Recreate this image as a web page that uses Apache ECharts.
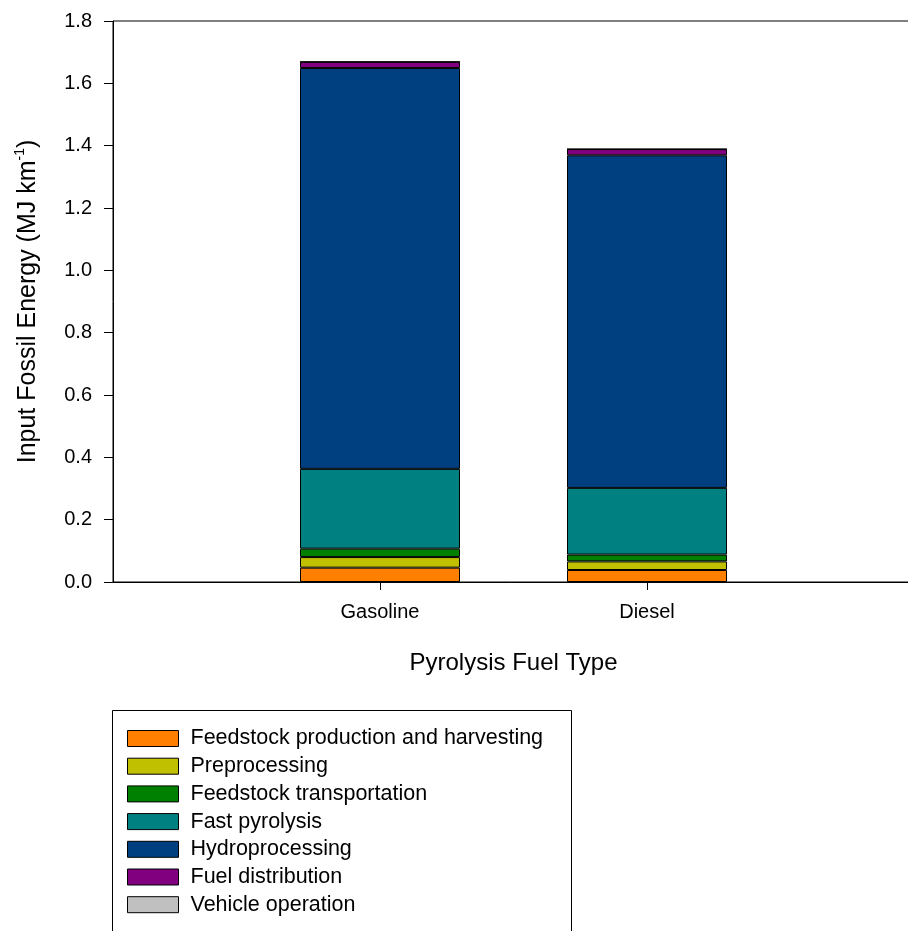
<!DOCTYPE html>
<html>
<head>
<meta charset="utf-8">
<script src="https://cdn.jsdelivr.net/npm/echarts@6/dist/echarts.min.js"></script>
<style>html,body{margin:0;padding:0;background:#fff}#c{width:908px;height:931px}</style>
</head>
<body>
<div id="c"></div>
<script>
var categories = ['', 'Gasoline', 'Diesel', ''];
var seriesNames = ['Feedstock production and harvesting', 'Preprocessing', 'Feedstock transportation', 'Fast pyrolysis', 'Hydroprocessing', 'Fuel distribution', 'Vehicle operation'];
var feedstockProduction = [null, 0.046, 0.0385, null];
var preprocessing = [null, 0.034, 0.0275, null];
var feedstockTransport = [null, 0.027, 0.022, null];
var fastPyrolysis = [null, 0.256, 0.214, null];
var hydroprocessing = [null, 1.286, 1.067, null];
var fuelDistribution = [null, 0.020, 0.020, null];
var vehicleOperation = [null, 0, 0, null];
var colors = ['#FF8000', '#C0C000', '#008000', '#008080', '#004080', '#800080', '#C0C0C0'];
var yTicks = ['0.0','0.2','0.4','0.6','0.8','1.0','1.2','1.4','1.6','1.8'];

var allData = [feedstockProduction, preprocessing, feedstockTransport, fastPyrolysis, hydroprocessing, fuelDistribution, vehicleOperation];
var font = 'Arial, "Liberation Sans", sans-serif';
var chart = echarts.init(document.getElementById('c'), null, {renderer: 'canvas'});
var series = seriesNames.map(function (n, i) {
  return {
    name: n, type: 'bar', stack: 'total', data: allData[i], barWidth: 160,
    itemStyle: {color: colors[i], borderColor: '#000', borderWidth: 1},
    emphasis: {disabled: true}
  };
});
chart.setOption({
  animation: false,
  grid: {left: 113, top: 21, width: 801, height: 561, outerBoundsMode: 'none', containLabel: false,
    show: true, borderColor: '#000', borderWidth: 1, backgroundColor: 'transparent'},
  xAxis: {
    type: 'category', data: categories, boundaryGap: false,
    axisLine: {lineStyle: {color: '#000', width: 1}},
    axisTick: {show: true, length: 8, lineStyle: {color: '#000'},
      interval: function (i) { return i === 1 || i === 2; }},
    axisLabel: {color: '#000', fontSize: 20, fontFamily: font, margin: 20},
    name: 'Pyrolysis Fuel Type', nameLocation: 'middle', nameGap: 69,
    nameTextStyle: {color: '#000', fontSize: 24, fontFamily: font},
    splitLine: {show: false}
  },
  yAxis: {
    type: 'value', min: 0, max: 1.8, interval: 0.2,
    axisLine: {show: true, lineStyle: {color: '#000', width: 1}},
    axisTick: {show: true, length: 9, lineStyle: {color: '#000'}},
    axisLabel: {color: '#000', fontSize: 20, fontFamily: font, margin: 21,
      formatter: function (v) { return yTicks[Math.round(v / 0.2)]; }},
    splitLine: {show: false},
    name: '{a|Input Fossil Energy (MJ km}{s|-1}{a|)}', nameLocation: 'middle', nameRotate: 90, nameGap: 72,
    nameTextStyle: {color: '#000', fontFamily: font,
      rich: {
        a: {fontSize: 25, fontFamily: font, color: '#000', lineHeight: 28, verticalAlign: 'bottom'},
        s: {fontSize: 14, fontFamily: font, color: '#000', lineHeight: 28, verticalAlign: 'top', padding: [0, 0, 11, 0]}
      }}
  },
  legend: {
    orient: 'vertical', left: 127, top: 727.5, padding: 0, height: 200,
    itemWidth: 51, itemHeight: 16, itemGap: 5.7,
    icon: 'rect',
    itemStyle: {borderColor: '#000', borderWidth: 1},
    textStyle: {color: '#000', fontSize: 21.5, fontFamily: font, padding: [0, 0, 0, 7]},
    data: seriesNames,
    selectedMode: false
  },
  graphic: [{
    type: 'rect', shape: {x: 112.5, y: 710.5, width: 459, height: 300},
    style: {fill: 'none', stroke: '#000', lineWidth: 1}, z: -1
  }],
  series: series
});
</script>
</body>
</html>
